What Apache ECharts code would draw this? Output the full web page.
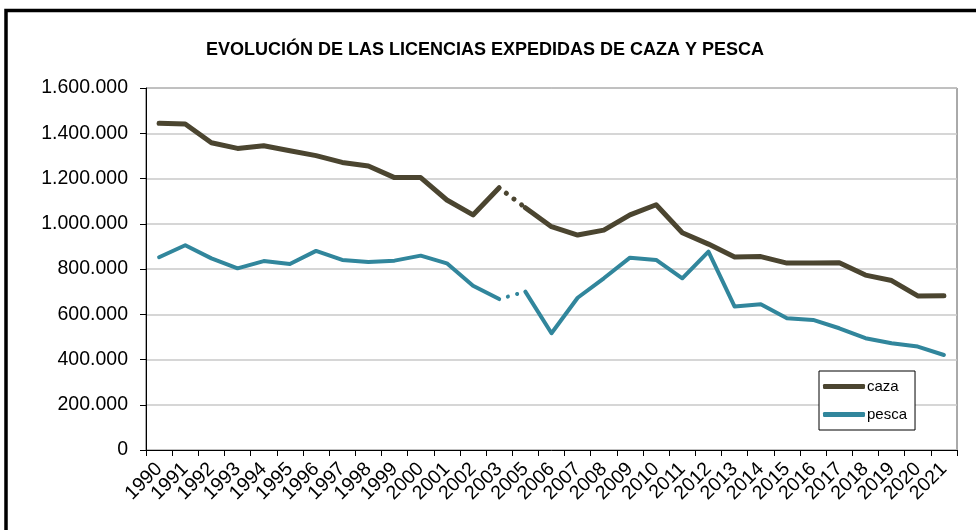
<!DOCTYPE html>
<html>
<head>
<meta charset="utf-8">
<script src="https://cdn.jsdelivr.net/npm/echarts@6/dist/echarts.min.js"></script>
<style>
html,body{margin:0;padding:0;background:#fff;}
#chart{width:976px;height:530px;}
</style>
</head>
<body>
<div id="chart"></div>
<script>
const titleText = 'EVOLUCIÓN DE LAS LICENCIAS EXPEDIDAS DE CAZA Y PESCA';
const categories = ['1990','1991','1992','1993','1994','1995','1996','1997','1998','1999','2000','2001','2002','2003','2005','2006','2007','2008','2009','2010','2011','2012','2013','2014','2015','2016','2017','2018','2019','2020','2021'];
const caza = [1444000,1441000,1358000,1333000,1345000,1323000,1301000,1271000,1255000,1204000,1204000,1105000,1039000,1159000,1071000,987000,950000,972000,1039000,1084000,960000,910000,853000,855000,826000,826000,828000,773000,749000,681000,682000];
const pesca = [852000,905000,847000,803000,835000,822000,880000,840000,831000,837000,859000,825000,726000,667000,700000,516000,673000,759000,850000,840000,759000,877000,634000,644000,582000,575000,538000,494000,472000,457000,420000];
const seriesNames = ['caza','pesca'];
const yTicks = [0,200000,400000,600000,800000,1000000,1200000,1400000,1600000];

const FONT = '"Liberation Sans", Arial, sans-serif';
const colors = {caza:'#4b4530', pesca:'#31869c'};
const widths = {caza:5, pesca:4};
const gapIdx = categories.indexOf('2003');

function fmt(v){ return String(v).replace(/\B(?=(\d{3})+(?!\d))/g,'.'); }

function splitSeries(name, values){
  const first = values.map((v,i)=> i<=gapIdx ? v : null);
  const second = values.map((v,i)=> i>gapIdx ? v : null);
  const dotted = values.map((v,i)=> (i===gapIdx || i===gapIdx+1) ? v : null);
  const base = {type:'line', name:name, showSymbol:false, symbol:'none', connectNulls:false, silent:true, animation:false, color:colors[name]};
  return [
    Object.assign({}, base, {data:first, lineStyle:{color:colors[name], width:widths[name], join:'round', cap:'round'}}),
    Object.assign({}, base, {data:second, lineStyle:{color:colors[name], width:widths[name], join:'round', cap:'round'}}),
    Object.assign({}, base, {data:dotted, lineStyle:{color:colors[name], width:widths[name], type:[0.1, 9.5], dashOffset:-9, cap:'round'}})
  ];
}

const chart = echarts.init(document.getElementById('chart'), null, {renderer:'canvas'});
chart.setOption({
  animation:false,
  backgroundColor:'#fff',
  textStyle:{fontFamily:FONT},
  title:{
    text:titleText, left:480, top:36, textAlign:'center',
    textStyle:{fontFamily:FONT, fontSize:18, fontWeight:'bold', color:'#000'}
  },
  graphic:[{type:'rect', silent:true, z:100, shape:{x:6, y:10.5, width:1000, height:600}, style:{fill:null, stroke:'#000', lineWidth:3.5}}],
  legend:{
    orient:'vertical', left:819, top:371,
    data:seriesNames,
    icon:'roundRect', itemWidth:42, itemHeight:5, itemGap:13,
    padding:[8,8,8,4],
    borderColor:'#000', borderWidth:1, backgroundColor:'#fff',
    textStyle:{fontFamily:FONT, fontSize:15, color:'#000', padding:[0,0,0,-3]}
  },
  grid:{left:146, right:19, top:88, bottom:80, show:true, borderColor:'#555', borderWidth:1, containLabel:false},
  xAxis:{
    type:'category', data:categories, boundaryGap:true,
    axisLine:{lineStyle:{color:'#000', width:1}},
    axisTick:{show:true, alignWithLabel:false, length:6, lineStyle:{color:'#000'}},
    axisLabel:{rotate:45, fontSize:19.5, color:'#000', fontFamily:FONT, margin:16, interval:0},
    splitLine:{show:false}
  },
  yAxis:{
    type:'value', min:0, max:1600000, interval:200000,
    axisLine:{show:true, lineStyle:{color:'#000', width:1}},
    axisTick:{show:true, length:6, lineStyle:{color:'#000'}},
    axisLabel:{fontSize:19.5, color:'#000', fontFamily:FONT, margin:18, formatter:function(v){ return yTicks.indexOf(v)>=0 ? fmt(v) : ''; }},
    splitLine:{show:true, lineStyle:{color:'#c8c8c8', width:1.5}}
  },
  series:[].concat(splitSeries('caza', caza), splitSeries('pesca', pesca))
});
</script>
</body>
</html>
